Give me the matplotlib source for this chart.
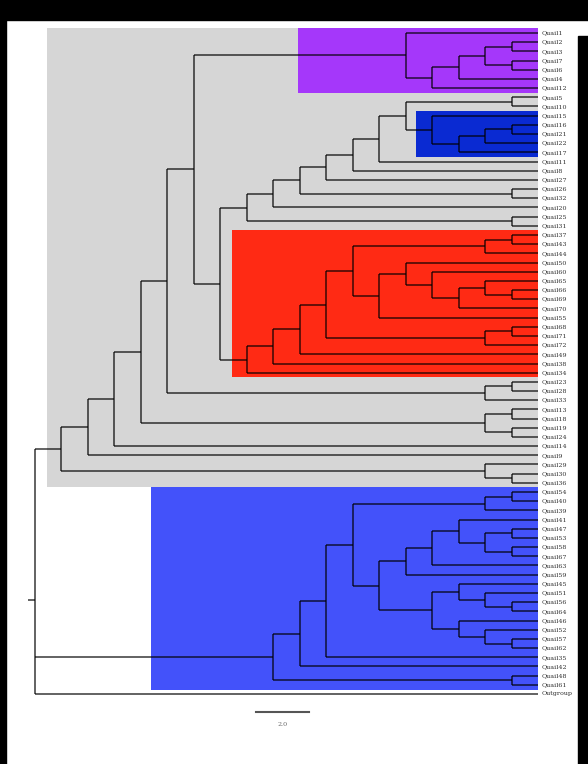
import matplotlib
matplotlib.use("Agg")
import matplotlib.pyplot as plt
from matplotlib.patches import Rectangle

# clades written as newick (topology only, drawn as a cladogram)
purple = "(Quail1,((((Quail2,Quail3),(Quail7,Quail6)),Quail4),Quail12))"
darkblue = "(Quail15,(((Quail16,Quail21),Quail22),Quail17))"
core = ("((((((((Quail5,Quail10),%s),Quail11),Quail8),Quail27),"
        "(Quail26,Quail32)),Quail20),(Quail25,Quail31))" % darkblue)
red = ("(((((((Quail37,Quail43),Quail44),((Quail50,(Quail60,((Quail65,"
       "(Quail66,Quail69)),Quail70))),Quail55)),((Quail68,Quail71),Quail72)),"
       "Quail49),Quail38),Quail34)")
gray = ("((((((%s,(%s,%s)),((Quail23,Quail28),Quail33)),"
        "((Quail13,Quail18),(Quail19,Quail24))),Quail14),Quail9),"
        "(Quail29,(Quail30,Quail36)))" % (purple, core, red))
blue_a = "(((Quail41,((Quail47,Quail53),(Quail58,Quail67))),Quail63),Quail59)"
blue_b = ("((Quail45,(Quail51,(Quail56,Quail64))),"
          "(Quail46,(Quail52,(Quail57,Quail62))))")
blue = ("((((((Quail54,Quail40),Quail39),(%s,%s)),Quail35),Quail42),"
        "(Quail48,Quail61))" % (blue_a, blue_b))
tree = "(%s,%s,Outgroup)" % (gray, blue)

scale_len = 2.0


def parse(s):
    pos = 0

    def node():
        nonlocal pos
        if s[pos] == "(":
            pos += 1
            kids = [node()]
            while s[pos] == ",":
                pos += 1
                kids.append(node())
            pos += 1
            return kids
        start = pos
        while pos < len(s) and s[pos] not in ",()":
            pos += 1
        return s[start:pos]

    return node()


leaves = []


def layout(n):
    if isinstance(n, str):
        leaves.append(n)
        return {"name": n, "h": 0, "y": len(leaves) - 1, "kids": []}
    kids = [layout(k) for k in n]
    return {"h": max(k["h"] for k in kids) + 1,
            "y": sum(k["y"] for k in kids) / len(kids), "kids": kids}


root = layout(parse(tree))
depth = root["h"]
nleaf = len(leaves)

W, H = 588, 764
fig = plt.figure(figsize=(W / 100, H / 100), dpi=100)
fig.patch.set_facecolor("white")
# leaves sit at x=538px, root at x=35px; first leaf y=33px, last y=694px
ax = fig.add_axes([35 / W, (H - 694) / H, (538 - 35) / W, (694 - 33) / H])
ax.set_xlim(0, depth)
ax.set_ylim(nleaf - 1, 0)
ax.set_axis_off()

# clade highlights: (x0, y0, x1, y1, colour)
boxes = [
    (0.45, -0.55, depth, 49.5, "#d6d6d6"),
    (9.95, -0.55, depth, 6.5, "#a537fa"),
    (14.4, 8.5, depth, 13.5, "#0a2ad2"),
    (7.45, 21.5, depth, 37.5, "#ff2a14"),
    (4.4, 49.5, depth, 71.6, "#4352fa"),
]
for x0, y0, x1, y1, c in boxes:
    ax.add_patch(Rectangle((x0, y0), x1 - x0, y1 - y0, facecolor=c,
                           edgecolor="none", zorder=1, clip_on=False))

lk = dict(color="black", alpha=0.78, lw=1.1, zorder=3, clip_on=False,
          solid_capstyle="butt")


def draw(n):
    x = depth - n["h"]
    n["x"] = x
    if not n["kids"]:
        ax.text(depth + 0.12, n["y"], n["name"], fontsize=4.6,
                family="DejaVu Serif", color="#333333", va="center",
                ha="left", clip_on=False)
        return
    ax.plot([x, x], [n["kids"][0]["y"], n["kids"][-1]["y"]], **lk)
    for k in n["kids"]:
        ax.plot([x, depth - k["h"]], [k["y"], k["y"]], **lk)
        draw(k)


draw(root)
ax.plot([-0.25, 0], [root["y"], root["y"]], **lk)

# scale bar
sx = 8.35
ax.plot([sx, sx + scale_len], [74.0, 74.0], color="#555555", lw=1.5,
        clip_on=False)
ax.text(sx + scale_len / 2, 75.3, "%.1f" % scale_len, fontsize=4.6,
        family="DejaVu Serif", color="#666666", ha="center", va="center",
        clip_on=False)

# dark frame around the scan
for x0, y0, w, h in [(0, 0, W, 20), (0, 0, 6, H), (578, 36, 10, H - 36)]:
    fig.add_artist(Rectangle((x0 / W, 1 - (y0 + h) / H), w / W, h / H,
                             transform=fig.transFigure, color="black",
                             zorder=10))

fig.savefig("out.png", dpi=100)
